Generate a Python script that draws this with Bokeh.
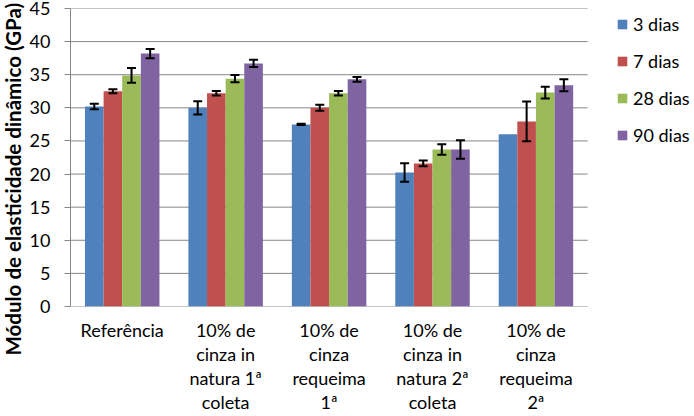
from bokeh.plotting import figure
from bokeh.models import (ColumnDataSource, Range1d, Legend, LegendItem,
                          Whisker, TeeHead, FixedTicker, Title)
from bokeh.embed import file_html
from bokeh.resources import INLINE

categories = ["Referência",
              "10% de\ncinza in\nnatura 1ª\ncoleta",
              "10% de\ncinza\nrequeima\n1ª",
              "10% de\ncinza in\nnatura 2ª\ncoleta",
              "10% de\ncinza\nrequeima\n2ª"]
series_names = ["3 dias", "7 dias", "28 dias", "90 dias"]
d3 = [30.2, 30.0, 27.5, 20.25, 26.0]
d7 = [32.5, 32.2, 30.0, 21.6, 27.95]
d28 = [34.9, 34.4, 32.2, 23.7, 32.3]
d90 = [38.2, 36.7, 34.3, 23.7, 33.4]
e3 = [0.4, 1.0, 0.1, 1.4, None]
e7 = [0.3, 0.35, 0.45, 0.43, 3.0]
e28 = [1.1, 0.55, 0.35, 0.8, 0.9]
e90 = [0.7, 0.55, 0.35, 1.4, 0.9]
y_ticks = [0, 5, 10, 15, 20, 25, 30, 35, 40, 45]
y_label = "Módulo de elasticidade dinâmico (GPa)"

colors = ["#4F81BD", "#C0504D", "#9BBB59", "#8064A2"]
offsets = [-0.27, -0.09, 0.09, 0.27]
FONT = "Lato"
GRID = "#868686"

n = len(categories)
centers = [i + 0.5 for i in range(n)]

p = figure(x_range=Range1d(0, 6.033), y_range=Range1d(0, 45),
           width=694, height=416, output_backend="svg", toolbar_location=None,
           min_border_left=69, min_border_right=0, min_border_top=8, min_border_bottom=0,
           background_fill_color="white", border_fill_color="white")
p.outline_line_color = None
p.grid.visible = False

# horizontal gridlines over the category area only
p.segment(x0=[0] * len(y_ticks), x1=[n] * len(y_ticks), y0=y_ticks, y1=y_ticks,
          line_color=GRID, line_width=1)

items = []
for vals, errs, name, col, off in zip([d3, d7, d28, d90], [e3, e7, e28, e90],
                                       series_names, colors, offsets):
    xs = [c + off for c in centers]
    src = ColumnDataSource(dict(x=xs, val=vals))
    r = p.vbar(x="x", top="val", width=0.18, source=src, fill_color=col, line_color=None)
    items.append(LegendItem(label=name, renderers=[r]))
    ex, eu, el = [], [], []
    for x, v, e in zip(xs, vals, errs):
        if e is not None:
            ex.append(x); eu.append(v + e); el.append(v - e)
    esrc = ColumnDataSource(dict(x=ex, upper=eu, lower=el))
    w = Whisker(base="x", upper="upper", lower="lower",
                source=esrc, line_color="black", line_width=2, level="overlay",
                upper_head=TeeHead(size=9, line_width=2, line_color="black"),
                lower_head=TeeHead(size=9, line_width=2, line_color="black"))
    p.add_layout(w)

legend = Legend(items=items, location=(546, 160), padding=0, margin=0, spacing=15,
                label_height=22, glyph_height=12, glyph_width=12, label_standoff=5,
                border_line_color=None, background_fill_alpha=0,
                label_text_font=FONT, label_text_font_size="18px", label_text_color="black")
p.add_layout(legend)

p.yaxis.ticker = FixedTicker(ticks=y_ticks)
p.yaxis.axis_line_color = GRID
p.yaxis.major_tick_line_color = GRID
p.yaxis.major_tick_out = 6
p.yaxis.major_tick_in = 0
p.yaxis.minor_tick_line_color = None
p.yaxis.major_label_standoff = 14
p.yaxis.major_label_text_font = FONT
p.yaxis.major_label_text_font_size = "18px"
p.yaxis.major_label_text_color = "black"

p.xaxis.ticker = FixedTicker(ticks=centers)
p.xaxis.major_label_overrides = {c: lab for c, lab in zip(centers, categories)}
p.xaxis.axis_line_color = None
p.xaxis.major_tick_line_color = None
p.xaxis.minor_tick_line_color = None
p.xaxis.major_label_standoff = 6
p.xaxis.major_label_text_font = FONT
p.xaxis.major_label_text_font_size = "18px"
p.xaxis.major_label_text_color = "black"
p.xaxis.major_label_text_line_height = 1.1

p.add_layout(Title(text=y_label, align="left", offset=-49, standoff=0,
                   vertical_align="top",
                   text_font=FONT, text_font_size="20.5px", text_font_style="bold",
                   text_color="black"), "left")

open("out.html", "w").write(file_html(p, INLINE))
